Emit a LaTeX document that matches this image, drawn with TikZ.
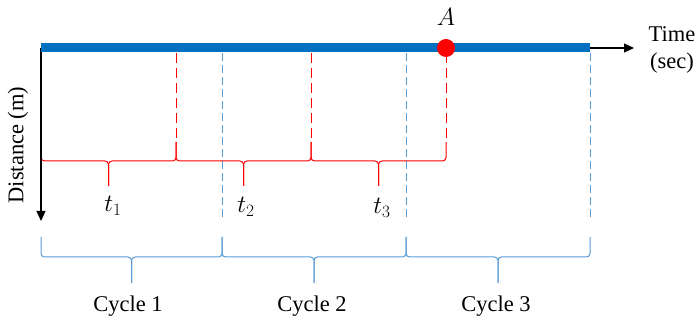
\documentclass[tikz,border=0pt]{standalone}
\usepackage{fontspec}
\setmainfont{Liberation Serif}
\usetikzlibrary{arrows.meta}
\definecolor{barblue}{RGB}{0,112,192}
\definecolor{lblue}{RGB}{91,155,213}
\definecolor{myred}{RGB}{255,0,0}
\tikzset{
  lbl/.style={font=\fontsize{22.5}{27}\selectfont, inner sep=0pt},
  mlbl/.style={font=\fontsize{25}{27}\selectfont, inner sep=0pt},
  axis/.style={black, line width=1.2pt, -{Triangle[length=10pt,width=9pt]}},
  bar/.style={barblue, line width=9pt},
  rdash/.style={myred, line width=0.9pt, dash pattern=on 10pt off 5pt},
  bdash/.style={lblue, line width=0.9pt, dash pattern=on 8pt off 4pt},
  rbr/.style={myred, line width=1pt, rounded corners=3.5pt},
  bbr/.style={lblue, line width=1pt, rounded corners=3.5pt},
}
\begin{document}
\begin{tikzpicture}[x=1pt,y=-1pt]
\useasboundingbox (0,0) rectangle (699,320);
% key coordinates
\coordinate (O) at (41,48);
\coordinate (E) at (590,48);
\coordinate (T) at (634,48);
\coordinate (D) at (41,221);
% dashed verticals
\foreach \x in {176,311,446} \draw[rdash] (\x,53) -- (\x,142);
\foreach \x in {222,406,590} \draw[bdash] (\x,53) -- (\x,220);
% red braces
\foreach \a/\b in {41/176,176/311,311/446}{
  \pgfmathsetmacro{\m}{(\a+\b)/2}
  \draw[rbr] (\a,142) -- (\a,161) -- (\m,161) -- (\m,186);
  \draw[rbr] (\b,142) -- (\b,161) -- (\m,161) -- (\m,186);
}
% blue braces
\foreach \a/\b in {41/222,222/406,406/590}{
  \pgfmathsetmacro{\m}{(\a+\b)/2}
  \draw[bbr] (\a,237) -- (\a,257) -- (\m,257) -- (\m,283);
  \draw[bbr] (\b,237) -- (\b,257) -- (\m,257) -- (\m,283);
}
% axes and bar
\draw[axis] (E) -- (T);
\draw[axis] (O) -- (D);
\draw[bar] (O) -- (E);
\node[circle, fill=myred, minimum size=18pt, inner sep=0pt] (dot) at (446,48) {};
% labels
\node[mlbl, anchor=base] (A) at (446,26) {$A$};
\node[lbl, align=center] (time) at (672,50) {Time\\(sec)};
\node[lbl, rotate=90] (dist) at (18,145) {Distance (m)};
\node[mlbl, anchor=base] (t1) at (113,212) {$t_1$};
\node[mlbl, anchor=base] (t2) at (246,213) {$t_2$};
\node[mlbl, anchor=base] (t3) at (382,214) {$t_3$};
\node[lbl, anchor=base] (c1) at (128,312) {Cycle 1};
\node[lbl, anchor=base] (c2) at (312,312) {Cycle 2};
\node[lbl, anchor=base] (c3) at (496,312) {Cycle 3};
\end{tikzpicture}
\end{document}
